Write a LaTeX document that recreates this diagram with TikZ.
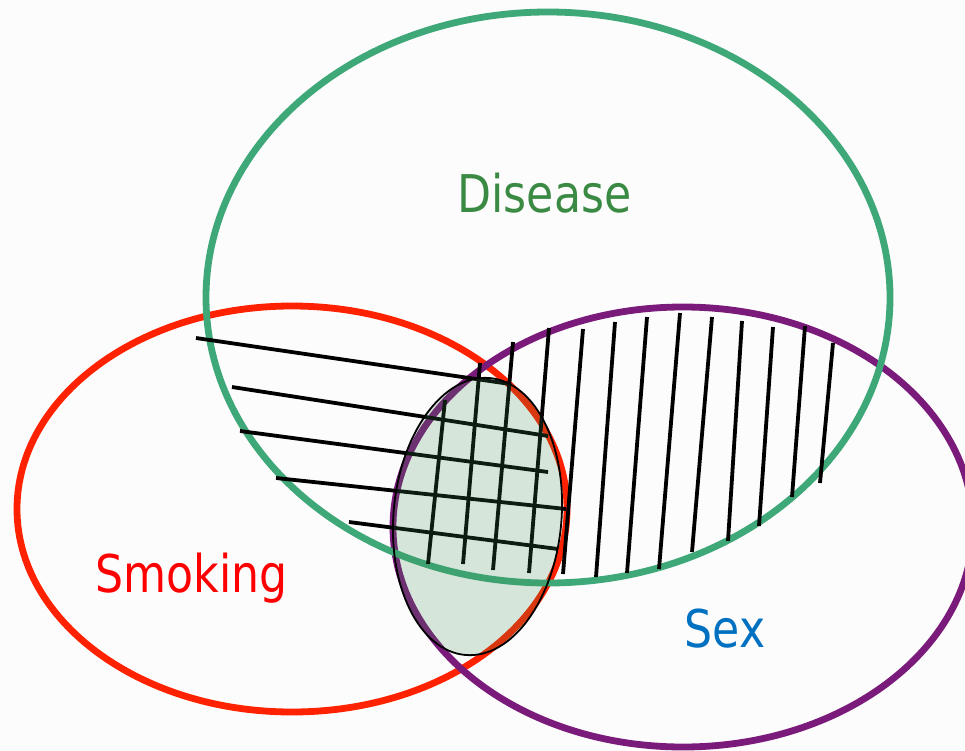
\documentclass[tikz,border=0pt]{standalone}
\usepackage{fontspec}
\newfontfamily\labelfont[FakeStretch=0.85]{DejaVu Sans}
\definecolor{bgcol}{HTML}{FCFCFC}
\definecolor{diseasecol}{HTML}{3FA878}
\definecolor{smokecol}{HTML}{FF2200}
\definecolor{sexcol}{HTML}{7A1A7A}
\definecolor{disTxt}{HTML}{3A8A44}
\definecolor{smkTxt}{HTML}{FF0000}
\definecolor{sexTxt}{HTML}{0070C0}
\definecolor{fillgreen}{HTML}{3C8C50}
\tikzset{
  ring/.style={line width=6.8pt},
  hatch/.style={line width=3.8pt, black},
  lbl/.style={font=\labelfont\fontsize{52}{60}\selectfont, anchor=base, inner sep=0pt}
}
\begin{document}
\begin{tikzpicture}[x=1pt,y=-1pt]
\fill[bgcol] (0,0) rectangle (965,751);
\useasboundingbox (0,0) rectangle (965,751);
% circles
\draw[ring, smokecol] (292,509) ellipse [x radius=275pt, y radius=203pt];
\draw[ring, sexcol] (683,527) ellipse [x radius=290pt, y radius=220pt];
\draw[ring, diseasecol] (548,297.5) ellipse [x radius=342pt, y radius=285.5pt];
% horizontal hatch
\draw[hatch] (196,338) -- (510,384);
\draw[hatch] (232,387) -- (548,436);
\draw[hatch] (240,431) -- (548,472);
\draw[hatch] (276,478) -- (566,509);
\draw[hatch] (349,522) -- (558,549);
% vertical hatch
\draw[hatch] (445,400) -- (428,564);
\draw[hatch] (480,363) -- (463,564);
\draw[hatch] (513,342) -- (493,570);
\draw[hatch] (549,328) -- (529,573);
\draw[hatch] (583,329) -- (563,574);
\draw[hatch] (615,322) -- (596,577);
\draw[hatch] (647,317) -- (627,573);
\draw[hatch] (680,313) -- (659,569);
\draw[hatch] (712,317) -- (692,552);
\draw[hatch] (742,321) -- (728,541);
\draw[hatch] (773,327) -- (759,526);
\draw[hatch] (805,326) -- (792,497);
\draw[hatch] (833,343) -- (820,483);
% shaded overlap
\fill[fillgreen, opacity=0.2] (477.5,516.5) ellipse [x radius=84pt, y radius=139pt, rotate=-5];
\draw[black, line width=1.8pt] (477.5,516.5) ellipse [x radius=84pt, y radius=139pt, rotate=-5];
% labels
\node[lbl, text=disTxt] (disease) at (544.5,213) {Disease};
\node[lbl, text=smkTxt] (smoking) at (191.5,592) {Smoking};
\node[lbl, text=sexTxt] (sex) at (725,647) {Sex};
\end{tikzpicture}
\end{document}
